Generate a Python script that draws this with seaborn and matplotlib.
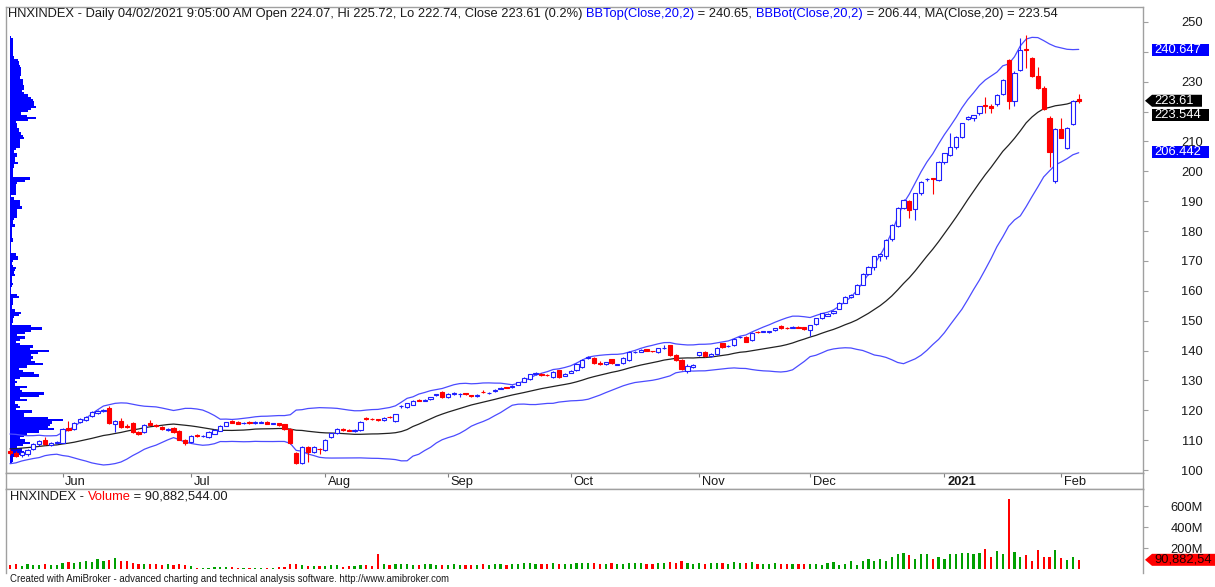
import numpy as np
import pandas as pd
import matplotlib
matplotlib.use("Agg")
import matplotlib.pyplot as plt
from matplotlib.patches import Polygon
import seaborn as sns

sns.set_theme(style="white")
plt.rcParams["font.family"] = ["Liberation Sans", "DejaVu Sans"]

# ---- values ----
# 19 closes before the first visible bar, only used to seed the 20 day bands
warmup_close = [103.2, 102.5, 103.8, 104.6, 105.2, 104.1, 105.8, 106.9, 107.5, 108.3,
                109.1, 108.7, 109.6, 110.2, 109.8, 110.5, 109.9, 108.7, 107.6]

bar_open = [
    106.5, 105.6, 104.9, 105.2, 107.0, 108.7, 110.0, 108.4, 108.9, 109.2,
    114.0, 113.7, 116.0, 116.8, 118.0, 119.0, 119.6, 120.7, 115.4, 116.4,
    114.8, 115.7, 112.6, 112.7, 115.6, 115.0, 114.4, 113.4, 114.0, 113.0,
    110.1, 109.4, 111.6, 111.3, 111.0, 112.1, 113.2, 114.8, 116.3, 116.0,
    115.6, 116.1, 115.7, 115.8, 116.1, 115.5, 115.6, 115.3, 113.7, 105.7,
    102.4, 107.7, 106.0, 107.2, 106.8, 111.0, 112.3, 113.8, 113.5, 112.9,
    113.4, 117.5, 117.1, 117.0, 116.7, 117.8, 116.4, 121.3, 121.0, 121.9,
    123.5, 123.2, 123.8, 125.2, 126.0, 124.4, 125.4, 125.5, 125.7, 125.0,
    124.8, 126.1, 125.8, 126.4, 127.2, 127.7, 127.7, 128.6, 129.5, 130.5,
    132.3, 132.2, 131.8, 131.1, 133.4, 131.6, 132.6, 133.4, 134.5, 137.6,
    137.5, 135.8, 135.4, 137.0, 135.3, 135.8, 136.8, 139.5, 139.6, 140.4,
    139.8, 139.5, 140.9, 141.8, 138.5, 136.8, 133.2, 134.5, 138.5, 139.5,
    138.1, 138.8, 142.4, 141.4, 141.8, 144.5, 144.6, 143.5, 146.3, 146.3,
    146.3, 146.9, 148.2, 147.6, 147.7, 148.0, 147.8, 146.8, 148.8, 150.8,
    151.7, 152.5, 154.0, 156.0, 157.9, 159.0, 162.0, 165.6, 168.0, 171.8,
    171.6, 177.3, 181.7, 187.7, 190.0, 187.3, 192.7, 197.3, 197.6, 197.0,
    203.0, 205.5, 208.0, 211.5, 217.6, 218.0, 219.5, 222.1, 222.0, 222.4,
    226.0, 237.2, 223.5, 234.0, 241.0, 238.0, 232.0, 228.0, 218.0, 196.8,
    214.0, 207.8, 215.8, 224.07]
bar_high = [
    107.2, 106.3, 106.2, 107.0, 109.2, 110.0, 111.2, 109.3, 109.8, 114.0,
    116.5, 116.0, 117.3, 118.0, 119.7, 120.0, 120.4, 121.5, 116.8, 117.4,
    115.3, 116.0, 113.0, 115.4, 116.8, 115.4, 114.8, 114.1, 114.4, 113.3,
    110.5, 111.6, 111.9, 111.6, 112.9, 113.7, 115.1, 116.2, 116.6, 116.3,
    116.1, 116.3, 116.3, 116.4, 116.3, 115.8, 115.8, 115.5, 114.0, 106.0,
    108.0, 108.0, 107.9, 107.4, 110.3, 112.5, 113.9, 114.0, 113.7, 113.6,
    116.3, 117.8, 117.4, 117.2, 117.7, 118.0, 118.9, 121.8, 122.6, 123.3,
    123.8, 123.8, 124.6, 125.6, 126.3, 125.8, 126.0, 125.8, 125.9, 125.2,
    125.4, 126.8, 126.0, 127.1, 127.8, 127.9, 128.3, 129.5, 131.0, 132.2,
    132.8, 132.4, 132.0, 133.0, 133.6, 132.6, 133.6, 135.7, 137.0, 138.0,
    137.8, 136.5, 136.2, 137.3, 135.6, 137.8, 139.7, 139.9, 140.5, 140.6,
    140.0, 141.0, 141.8, 142.0, 138.7, 137.0, 135.5, 135.4, 139.6, 139.7,
    139.2, 141.2, 142.6, 141.8, 144.2, 144.9, 144.8, 146.3, 146.6, 146.7,
    146.6, 147.7, 148.4, 147.9, 148.1, 148.3, 148.0, 148.6, 151.0, 152.6,
    152.6, 153.5, 156.2, 158.2, 158.8, 162.2, 165.8, 168.2, 171.8, 172.5,
    177.2, 182.2, 187.9, 190.8, 190.5, 192.9, 196.6, 197.9, 197.9, 203.3,
    206.2, 212.8, 211.8, 216.3, 218.6, 219.0, 222.0, 224.8, 222.5, 226.0,
    231.0, 237.5, 233.5, 244.5, 245.6, 238.3, 235.0, 228.5, 218.5, 214.5,
    218.0, 214.8, 223.7, 225.72]
bar_low = [
    105.0, 104.2, 104.3, 104.8, 106.8, 108.2, 108.3, 108.0, 108.6, 109.0,
    113.2, 113.5, 115.7, 116.5, 117.8, 118.7, 119.3, 115.5, 112.7, 114.2,
    114.0, 112.5, 111.8, 112.5, 115.0, 114.4, 113.5, 113.2, 112.4, 109.9,
    108.4, 109.2, 111.2, 111.0, 110.8, 111.9, 113.0, 114.6, 115.7, 115.3,
    115.4, 115.4, 115.5, 115.6, 115.3, 115.3, 114.9, 113.4, 108.8, 102.0,
    102.0, 102.7, 105.8, 105.5, 106.5, 110.8, 112.0, 113.2, 112.9, 112.7,
    113.2, 116.8, 116.7, 116.3, 116.5, 117.4, 116.2, 120.8, 120.8, 121.7,
    123.0, 123.0, 123.6, 124.8, 124.2, 124.2, 125.2, 124.3, 125.1, 124.6,
    124.6, 125.8, 125.5, 126.2, 127.0, 127.4, 127.5, 128.4, 129.3, 130.3,
    131.8, 131.5, 131.4, 130.9, 130.8, 131.4, 132.4, 133.2, 134.3, 137.3,
    135.6, 135.0, 135.2, 135.6, 135.0, 135.6, 136.6, 139.2, 139.4, 139.7,
    139.5, 139.3, 140.6, 138.3, 136.6, 133.6, 132.6, 134.3, 138.3, 137.9,
    137.9, 138.6, 140.9, 141.2, 141.6, 144.3, 142.8, 143.3, 145.8, 146.1,
    146.0, 146.7, 147.3, 147.3, 147.5, 147.4, 146.9, 144.8, 148.6, 150.6,
    151.5, 152.3, 153.8, 155.8, 157.7, 158.8, 161.8, 165.3, 167.0, 170.0,
    170.5, 176.5, 181.5, 187.5, 184.5, 183.8, 192.0, 196.8, 192.5, 196.8,
    202.5, 205.0, 207.5, 211.0, 217.2, 216.8, 219.0, 219.5, 219.5, 221.8,
    225.6, 221.0, 222.0, 233.5, 234.6, 231.7, 227.5, 220.5, 201.5, 196.0,
    211.0, 207.5, 215.5, 222.74]
bar_close = [
    105.6, 104.8, 105.9, 106.6, 108.8, 109.6, 108.6, 109.0, 109.3, 113.8,
    113.5, 115.7, 117.0, 117.7, 119.4, 119.6, 120.0, 115.8, 116.4, 114.5,
    114.4, 112.8, 112.2, 115.0, 115.2, 114.6, 113.7, 113.8, 112.6, 110.1,
    109.2, 111.3, 111.5, 111.4, 112.6, 113.4, 114.9, 116.0, 115.8, 115.5,
    115.9, 115.6, 116.0, 116.2, 115.5, 115.6, 115.0, 113.6, 109.0, 102.4,
    107.7, 106.0, 107.6, 107.0, 110.0, 112.3, 113.7, 113.4, 113.1, 113.4,
    116.0, 117.0, 117.0, 116.6, 117.5, 117.7, 118.7, 121.5, 122.3, 123.1,
    123.2, 123.6, 124.4, 125.3, 124.5, 125.6, 125.8, 125.6, 125.3, 124.8,
    125.2, 126.0, 125.9, 126.9, 127.6, 127.6, 128.1, 129.3, 130.8, 132.0,
    132.4, 131.8, 131.7, 132.8, 131.0, 132.3, 133.3, 135.5, 136.8, 137.7,
    135.8, 135.4, 136.0, 135.8, 135.4, 137.5, 139.5, 139.6, 140.3, 139.9,
    139.7, 140.8, 141.0, 138.5, 136.8, 133.8, 134.8, 135.0, 139.4, 138.1,
    139.0, 141.0, 141.1, 141.5, 144.0, 144.6, 143.0, 146.0, 146.1, 146.4,
    146.4, 147.5, 147.5, 147.5, 147.8, 147.6, 147.1, 148.4, 150.8, 152.4,
    152.3, 153.3, 156.0, 158.0, 158.5, 162.0, 165.6, 168.0, 171.6, 172.3,
    177.0, 182.0, 187.7, 190.4, 187.0, 192.7, 196.4, 197.5, 197.4, 203.0,
    206.0, 208.0, 211.5, 216.0, 218.3, 218.7, 221.8, 221.9, 221.2, 225.6,
    230.6, 223.6, 233.0, 240.5, 240.6, 232.0, 228.0, 221.0, 206.5, 214.0,
    211.3, 214.5, 223.5, 223.61]

# volume in millions of shares
volume_m = [
    40, 50, 35, 48, 45, 38, 52, 42, 46,
    60, 70, 58, 72, 75, 68, 95, 80, 85, 105, 82, 75, 60, 55, 50, 48, 52, 45, 50, 42, 48, 40,
    35, 15, 12, 18, 20, 22, 25, 20, 15, 12, 14, 12, 15, 18, 14, 20, 25, 50, 55, 40, 35, 30, 28,
    35, 40, 38, 25, 30, 28, 45, 40, 35, 150, 50, 45, 55, 48, 50, 45, 42, 48, 50, 45, 40,
    45, 48, 40, 42, 38, 45, 50, 42, 48, 52, 45, 50, 55, 60, 58, 50, 48, 55, 60, 52, 50,
    55, 60, 65, 58, 62, 55, 50, 58, 48, 55, 65, 60, 58, 55, 50, 62, 58, 70, 65, 80, 60, 55,
    60, 55, 58, 65, 62, 55, 70, 58, 62, 68, 55, 52, 50, 58, 55, 50, 52, 48, 55,
    50, 55, 45, 60, 70, 40, 55,
    75, 45, 75, 95, 80, 95, 75, 118, 150, 158, 137, 102, 143, 143, 96, 118, 102, 143, 143, 155,
    155, 149, 158, 189, 118, 174, 149, 663, 165, 118, 137, 80, 180, 121, 118, 180, 105, 90, 118, 90.88]

month_labels = ["Jun", "Jul", "Aug", "Sep", "Oct", "Nov", "Dec", "2021", "Feb"]
month_bar = [9, 31, 54, 75, 96, 118, 137, 160, 180]

price_ticks = [100, 110, 120, 130, 140, 150, 160, 170, 180, 190, 200, 210, 220, 230, 240, 250]
# 220 and 240 sit under the value tags, so their labels are not shown
price_tick_labels = ["100", "110", "120", "130", "140", "150", "160", "170", "180", "190",
                     "200", "210", "", "230", "", "250"]
vol_ticks = [200, 400, 600]
vol_tick_labels = ["200M", "400M", "600M"]

# last values shown in the tags on the right axis
tag_bbtop, tag_close, tag_ma, tag_bbbot = 240.647, 223.61, 223.544, 206.442

# ---- indicators ----
o = np.array(bar_open)
h = np.array(bar_high)
l = np.array(bar_low)
c = np.array(bar_close)
vol = np.array(volume_m)
idx = np.arange(len(c))
up = c >= o

closes = pd.Series(warmup_close + bar_close)
ma = closes.rolling(20).mean().iloc[len(warmup_close):].to_numpy()
sd = closes.rolling(20).std(ddof=0).iloc[len(warmup_close):].to_numpy()
bb_top = ma + 2 * sd
bb_bot = ma - 2 * sd

# ---- layout ----
W, H = 1215, 587
X0, DX = 10, 5.84          # pixel of first bar, pixels per bar
FS = 9.3
BLUE = "#1f1fff"
BAND = "#4b4bff"
RED = "#ff0000"
GREEN = "#00a000"
FRAME = "#a0a0a0"
TXT = "#1a1a1a"


def box(x0, y0, x1, y1):
    return [x0 / W, 1 - y1 / H, (x1 - x0) / W, (y1 - y0) / H]


fig = plt.figure(figsize=(W / 100, H / 100), dpi=100)
fig.patch.set_facecolor("white")
ax = fig.add_axes(box(6, 7, 1143, 473))
ax_d = fig.add_axes(box(6, 473, 1143, 489))
ax_v = fig.add_axes(box(6, 489, 1143, 573))

for a in (ax, ax_d, ax_v):
    a.set_xlim((6 - X0) / DX, (1143 - X0) / DX)
    a.set_xticks([])
    a.set_facecolor("white")
    a.grid(False)
    for s in a.spines.values():
        s.set_color(FRAME)
        s.set_linewidth(1)
ax.set_ylim(99.0, 255.0)
ax_v.set_ylim(-34, 762)
ax_v.spines["bottom"].set_visible(False)
ax_d.set_ylim(0, 1)
ax_d.set_yticks([])

# volume at price overlay on the left
edges = np.arange(99.0, 252.0, 0.75)
prof = np.zeros(len(edges) - 1)
for lo, hi, v in zip(l, h, vol):
    ov = np.clip(np.minimum(edges[1:], hi) - np.maximum(edges[:-1], lo), 0, None)
    prof += v * ov / max(hi - lo, 0.1)
ax.barh(edges[:-1] + 0.375, prof / prof.max() * 53 / DX, height=0.75,
        left=-0.05, color="#0000ff", linewidth=0, zorder=1)

# bands and moving average
sns.lineplot(x=idx, y=bb_top, ax=ax, color=BAND, linewidth=0.9, zorder=2)
sns.lineplot(x=idx, y=bb_bot, ax=ax, color=BAND, linewidth=0.9, zorder=2)
sns.lineplot(x=idx, y=ma, ax=ax, color="#222222", linewidth=0.9, zorder=2)

# candles
ax.vlines(idx, l, h, colors=np.where(up, BLUE, RED), linewidth=0.8, zorder=3)
body_lo = np.minimum(o, c)
body_h = np.abs(c - o)
ax.bar(idx[up], body_h[up], bottom=body_lo[up], width=0.72, facecolor="white",
       edgecolor=BLUE, linewidth=0.8, zorder=4)
ax.bar(idx[~up], body_h[~up], bottom=body_lo[~up], width=0.72, facecolor=RED,
       edgecolor=RED, linewidth=0.8, zorder=4)

# volume
ax_v.bar(idx, vol, width=0.38, color=np.where(up, GREEN, RED), linewidth=0, zorder=3)

# right axes
for a, ticks, labels in ((ax, price_ticks, price_tick_labels),
                         (ax_v, vol_ticks, vol_tick_labels)):
    a.yaxis.tick_right()
    a.set_yticks(ticks)
    a.set_yticklabels(labels, fontsize=FS, color=TXT)
    a.tick_params(axis="y", right=True, left=False, length=5 * 0.72, width=0.8,
                  color=FRAME, pad=(1203 - 1148) * 0.72)
    for t in a.get_yticklabels():
        t.set_horizontalalignment("right")

# month strip
for lab, b in zip(month_labels, month_bar):
    ax_d.vlines(b, 0.72, 1.0, color="#808080", linewidth=0.8)
    ax_d.text(b + 0.45, 0.42, lab, fontsize=FS, va="center", ha="left", color=TXT,
              fontweight="bold" if lab == "2021" else "normal")

# texts
renderer = fig.canvas.get_renderer()


def chain(x, y, parts, size=FS):
    for s, col in parts:
        t = fig.text(x / W, 1 - y / H, s, color=col, fontsize=size, va="center", ha="left")
        x += t.get_window_extent(renderer=renderer).width


chain(8, 13.5, [("HNXINDEX - Daily 04/02/2021 9:05:00 AM Open 224.07, Hi 225.72, Lo 222.74, "
                 "Close 223.61 (0.2%) ", TXT),
                ("BBTop(Close,20,2)", "#0000ff"), (" = 240.65, ", TXT),
                ("BBBot(Close,20,2)", "#0000ff"), (" = 206.44, MA(Close,20) = 223.54", TXT)])
chain(10, 496.5, [("HNXINDEX - ", TXT), ("Volume", RED), (" = 90,882,544.00", TXT)])
fig.text(10 / W, 1 - 579 / H, "Created with AmiBroker - advanced charting and technical "
         "analysis software. http://www.amibroker.com", fontsize=6.9, color=TXT,
         va="center", ha="left")


def ypix(a, v):
    return H - a.transData.transform((0, v))[1]


def tag(yc, text, face, fg, x1=1209, arrow=False):
    pts = [(1152, yc - 6), (x1, yc - 6), (x1, yc + 6), (1152, yc + 6)]
    if arrow:
        pts.append((1145, yc))
    fig.add_artist(Polygon([(x / W, 1 - y / H) for x, y in pts], closed=True,
                           transform=fig.transFigure, facecolor=face, edgecolor="none"))
    fig.text(1154 / W, 1 - yc / H, text, color=fg, fontsize=FS, va="center", ha="left")


y_close = ypix(ax, tag_close)
tag(ypix(ax, tag_bbtop), f"{tag_bbtop:.3f}", "#0000ff", "white")
tag(y_close, f"{tag_close:.2f}", "black", "white", x1=1202, arrow=True)
tag(y_close + 14.5, f"{tag_ma:.3f}", "black", "white")
tag(ypix(ax, tag_bbbot), f"{tag_bbbot:.3f}", "#0000ff", "white")
# the chart window cuts this tag at its right edge
tag(ypix(ax_v, vol[-1]), "90,882,54", RED, "#200000", x1=1215, arrow=True)

fig.savefig("out.png", dpi=100, facecolor="white")
